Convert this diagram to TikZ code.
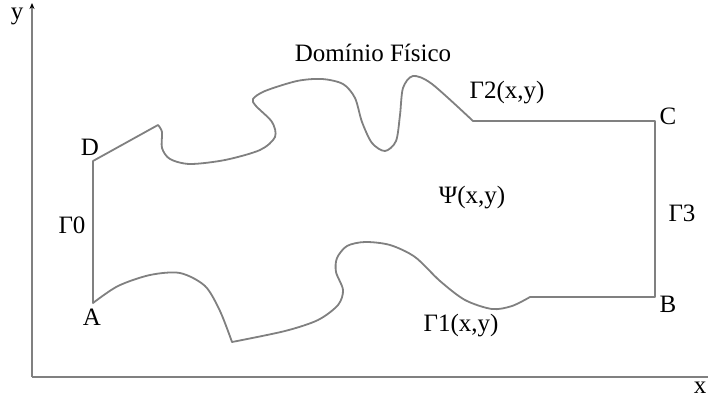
\documentclass[tikz,border=0pt]{standalone}
\usepackage{fontspec}
\setmainfont{Liberation Serif}
\usepackage{tikz}
\usetikzlibrary{arrows.meta, positioning, calc}
\definecolor{linegray}{RGB}{128, 128, 128}
\begin{document}
\begin{tikzpicture}[
    x=1pt, y=-1pt,
    axis/.style={draw=linegray, line width=1.8pt},
    bnd/.style={draw=linegray, line width=1.8pt, line join=round},
    lbl/.style={font=\fontsize{25}{29}\selectfont, inner sep=0pt}
  ]
    \useasboundingbox (0,0) rectangle (708,405);

    \coordinate (O) at (32,377);
    \coordinate (ytip) at (32,3);
    \coordinate (xend) at (708,377);
    \coordinate (A) at (93,303);
    \coordinate (B) at (655,297);
    \coordinate (C) at (655,121);
    \coordinate (D) at (93,161);

    \draw[axis, -{Stealth[length=6pt, width=5pt, color=black]}] (O) -- (ytip);
    \draw[axis] (O) -- (xend);

    \draw[bnd] (D) -- (158,125)
      -- plot[smooth] coordinates {(158,125) (162,132) (162,148) (170,159)
        (190,164) (225,160) (260,150) (275,137) (272,122) (256,106) (253,99)
        (265,91) (297,81) (322,79) (343,84) (355,98) (362,122) (372,143)
        (385,151) (396,141) (400,115) (403,88) (413,76) (432,84) (473,121)}
      -- (C) -- (B) -- (530,297)
      -- plot[smooth] coordinates {(530,297) (512,306) (492,309) (465,300)
        (440,281) (415,257) (390,245) (365,242) (347,246) (337,258) (336,272)
        (343,290) (338,305) (318,320) (285,331) (232,342)}
      -- plot[smooth] coordinates {(232,342) (220,311) (205,286) (180,273)
        (150,275) (118,286) (93,303)}
      -- cycle;

    \node[lbl] (ylbl) at (17,16) {y};
    \node[lbl] (xlbl) at (700,388) {x};
    \node[lbl] (dom) at (373,53) {Domínio Físico};
    \node[lbl] (g2) at (507,93) {Γ2(x,y)};
    \node[lbl] (g0) at (72,225) {Γ0};
    \node[lbl] (g3) at (682,213) {Γ3};
    \node[lbl] (g1) at (461,326) {Γ1(x,y)};
    \node[lbl] (psi) at (472,198) {Ψ(x,y)};
    \node[lbl] (Alb) at (92,317) {A};
    \node[lbl] (Blb) at (668,304) {B};
    \node[lbl] (Clb) at (668,116) {C};
    \node[lbl] (Dlb) at (90,147) {D};
\end{tikzpicture}
\end{document}
